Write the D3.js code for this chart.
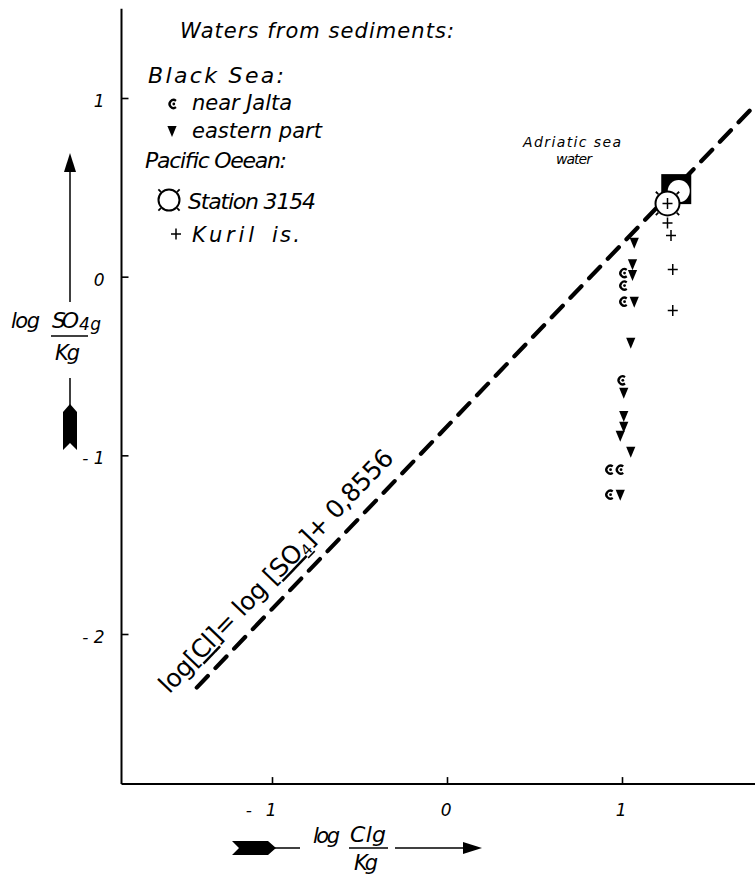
<!DOCTYPE html>
<html><head><meta charset="utf-8">
<script src="https://cdn.jsdelivr.net/npm/d3@7"></script>
<style>
body{margin:0;background:#fff}
svg{display:block}
text{font-family:"DejaVu Sans",sans-serif;font-style:italic;font-weight:400;fill:#000}
</style>
</head><body>
<svg id="c" width="755" height="882"></svg>
<script>
// ---- data ----
const xTicks = [-1, 0, 1];
const yTicks = [-2, -1, 0, 1];
const xTickLabels = ["-\u2002\u00a01", "0", "1"];
const yTickLabels = ["- 2", "- 1", "0", "1"];
const xExtent = [-1.86, 1.77];
const yExtent = [-2.84, 1.50];
// Black Sea, near Jalta
const jaltaX = [1.01, 1.01, 1.01, 1.00, 0.93, 0.99, 0.93];
const jaltaY = [0.02, -0.05, -0.14, -0.58, -1.08, -1.08, -1.22];
// Black Sea, eastern part
const easternX = [1.07, 1.06, 1.06, 1.07, 1.05, 1.01, 1.01, 1.01, 0.99, 1.05, 0.99];
const easternY = [0.19, 0.07, 0.01, -0.14, -0.37, -0.65, -0.78, -0.84, -0.89, -0.98, -1.22];
// Pacific Ocean, Kuril is.
const kurilX = [1.26, 1.26, 1.28, 1.29, 1.29];
const kurilY = [0.41, 0.30, 0.23, 0.04, -0.19];
// Pacific Ocean, Station 3154
const stationX = [1.26];
const stationY = [0.41];
// Adriatic sea water
const adriaticX = [1.31];
const adriaticY = [0.49];
// regression line log[Cl] = log[SO4] + 0,8556
const lineX = [-1.43, 1.76];
const lineY = [-2.30, 0.96];

const svg = d3.select("#c");
const x = d3.scaleLinear().domain([-1, 1]).range([272, 622]);
const y = d3.scaleLinear().domain([-2, 1]).range([634, 98]);

// ---- axes ----
const gx = svg.append("g").attr("transform", `translate(0,${y(yExtent[0])})`)
  .call(d3.axisBottom(x).tickValues(xTicks).tickSizeInner(-7).tickSizeOuter(0)
    .tickFormat((d, i) => xTickLabels[i]));
gx.select(".domain").remove();
gx.selectAll(".tick line").attr("stroke", "#000").attr("stroke-width", 1.6);
gx.selectAll(".tick text").attr("y", 32).attr("dy", 0).attr("x", 4)
  .attr("text-anchor", "end").style("font-size", "17px").style("font-family", null);

const gy = svg.append("g").attr("transform", `translate(${x(xExtent[0])},0)`)
  .call(d3.axisLeft(y).tickValues(yTicks).tickSizeInner(-7).tickSizeOuter(0)
    .tickFormat((d, i) => yTickLabels[i]));
gy.select(".domain").remove();
gy.selectAll(".tick line").attr("stroke", "#000").attr("stroke-width", 1.6);
gy.selectAll(".tick text").attr("x", -17).attr("dy", "0.5em")
  .attr("text-anchor", "end").style("font-size", "17px").style("font-family", null);

svg.append("line").attr("x1", x(xExtent[0])).attr("x2", x(xExtent[1]))
  .attr("y1", y(yExtent[0])).attr("y2", y(yExtent[0]))
  .attr("stroke", "#000").attr("stroke-width", 2);
svg.append("line").attr("x1", x(xExtent[0])).attr("x2", x(xExtent[0]))
  .attr("y1", y(yExtent[0])).attr("y2", y(yExtent[1]))
  .attr("stroke", "#000").attr("stroke-width", 2);

// ---- dashed line ----
const lp = lineX.map((d, i) => [x(d), y(lineY[i])]);
svg.append("path").attr("d", d3.line()(lp))
  .attr("stroke", "#000").attr("stroke-width", 4.2).attr("fill", "none")
  .attr("stroke-dasharray", "16,11").attr("stroke-linecap", "round");

// equation label along the line
const ang = Math.atan2(lp[1][1] - lp[0][1], lp[1][0] - lp[0][0]);
const ux = Math.cos(ang), uy = Math.sin(ang);
const nx = uy, ny = -ux; // normal pointing up-left
const ex = lp[0][0] - 24 * ux + 15 * nx, ey = lp[0][1] - 24 * uy + 15 * ny;
const eq = svg.append("text")
  .attr("transform", `translate(${ex},${ey}) rotate(${ang * 180 / Math.PI})`)
  .style("font-size", "25px").style("font-style", "normal")
  .attr("textLength", 326).attr("lengthAdjust", "spacing");
eq.append("tspan").text("log[");
eq.append("tspan").text("Cl").style("text-decoration", "underline");
eq.append("tspan").text("]= log [");
eq.append("tspan").text("SO").style("text-decoration", "underline");
eq.append("tspan").text("4").attr("dy", 4).style("font-size", "15px").style("text-decoration", "underline");
eq.append("tspan").text("]+ 0,8556").attr("dy", -4);

// ---- symbols ----
function epsilon(g, cx, cy, s) {
  s = s || 1;
  g.append("path")
    .attr("d", `M${cx + 3 * s},${cy - 3.2 * s}A${4 * s},${4 * s} 0 1 0 ${cx + 3 * s},${cy + 3.2 * s}`)
    .attr("stroke", "#000").attr("stroke-width", 2.3 * s).attr("fill", "none");
  g.append("circle").attr("cx", cx + 0.8 * s).attr("cy", cy).attr("r", 1.4 * s).attr("fill", "#000");
}
function triangle(g, cx, cy, s) {
  s = s || 1;
  g.append("path")
    .attr("d", `M${cx - 4.6 * s},${cy - 5 * s}L${cx + 4.6 * s},${cy - 5 * s}L${cx},${cy + 6 * s}Z`)
    .attr("fill", "#000");
}
function plus(g, cx, cy, s) {
  s = s || 1;
  g.append("path").attr("d", `M${cx - 5 * s},${cy}H${cx + 5 * s}M${cx},${cy - 5.5 * s}V${cy + 5.5 * s}`)
    .attr("stroke", "#000").attr("stroke-width", 1.5).attr("fill", "none");
}
function station(g, cx, cy, r) {
  g.append("circle").attr("cx", cx).attr("cy", cy).attr("r", r)
    .attr("fill", "#fff").attr("stroke", "#000").attr("stroke-width", 2);
  [45, 135, 225, 315].forEach(a => {
    const t = a * Math.PI / 180;
    g.append("line")
      .attr("x1", cx + Math.cos(t) * (r + 1)).attr("y1", cy + Math.sin(t) * (r + 1))
      .attr("x2", cx + Math.cos(t) * (r + 4.5)).attr("y2", cy + Math.sin(t) * (r + 4.5))
      .attr("stroke", "#000").attr("stroke-width", 1.8);
  });
}

const pts = svg.append("g");
jaltaX.forEach((d, i) => epsilon(pts, x(d), y(jaltaY[i])));
easternX.forEach((d, i) => triangle(pts, x(d), y(easternY[i])));

// Adriatic sea water: black square with white circle
adriaticX.forEach((d, i) => {
  const cx = x(d), cy = y(adriaticY[i]);
  pts.append("rect").attr("x", cx - 15).attr("y", cy - 15).attr("width", 30).attr("height", 30).attr("fill", "#000");
  pts.append("circle").attr("cx", cx + 2.5).attr("cy", cy + 2).attr("r", 11).attr("fill", "#fff");
});
stationX.forEach((d, i) => station(pts, x(d), y(stationY[i]), 12));
kurilX.forEach((d, i) => plus(pts, x(d), y(kurilY[i])));

// ---- annotations / legend ----
function txt(t, px, py, size, len) {
  const e = svg.append("text").attr("x", px).attr("y", py).style("font-size", size + "px").text(t);
  if (len) e.attr("textLength", len).attr("lengthAdjust", "spacing");
  return e;
}
txt("Waters from sediments:", 180, 38, 21, 274);
txt("Black Sea:", 148, 83, 22, 136);
epsilon(svg, 173, 104);
txt("near Jalta", 192, 110, 21, 100);
triangle(svg, 172, 131);
txt("eastern part", 192, 138, 21, 130);
txt("Pacific Oeean:", 145, 168, 22, 142);
station(svg, 169, 200, 10.5);
txt("Station 3154", 188, 209, 22, 128);
plus(svg, 176, 234);
txt("Kuril", 192, 242, 21, 62);
txt("is.", 272, 242, 21, 28);

txt("Adriatic sea", 523, 147, 14, 98);
txt("water", 556, 164, 14, 36);

// y-axis title
txt("log", 11, 328, 21, 29);
txt("SO", 52, 328, 22, 27);
txt("4g", 79, 330, 17, 22);
svg.append("line").attr("x1", 51).attr("x2", 88).attr("y1", 336).attr("y2", 336).attr("stroke", "#000").attr("stroke-width", 1.5);
txt("Kg", 55, 360, 21, 25);
// vertical arrow
svg.append("line").attr("x1", 70).attr("x2", 70).attr("y1", 302).attr("y2", 168).attr("stroke", "#000").attr("stroke-width", 1.5);
svg.append("path").attr("d", "M70,153L64,172L76,172Z").attr("fill", "#000");
svg.append("line").attr("x1", 70).attr("x2", 70).attr("y1", 378).attr("y2", 410).attr("stroke", "#000").attr("stroke-width", 1.5);
svg.append("path").attr("d", "M70,404L77,412L77,450L70,443L63,450L63,412Z").attr("fill", "#000");

// x-axis title
txt("log", 313, 843, 21, 27);
txt("Clg", 350, 842, 22, 36);
svg.append("line").attr("x1", 349).attr("x2", 388).attr("y1", 848).attr("y2", 848).attr("stroke", "#000").attr("stroke-width", 1.5);
txt("Kg", 354, 870, 21, 24);
// horizontal arrow
svg.append("line").attr("x1", 395).attr("x2", 464).attr("y1", 848).attr("y2", 848).attr("stroke", "#000").attr("stroke-width", 1.5);
svg.append("path").attr("d", "M482,848L463,842L463,854Z").attr("fill", "#000");
svg.append("line").attr("x1", 270).attr("x2", 300).attr("y1", 848).attr("y2", 848).attr("stroke", "#000").attr("stroke-width", 1.5);
svg.append("path").attr("d", "M276,848L268,841L232,841L239,848L232,855L268,855Z").attr("fill", "#000");
</script>
</body></html>
